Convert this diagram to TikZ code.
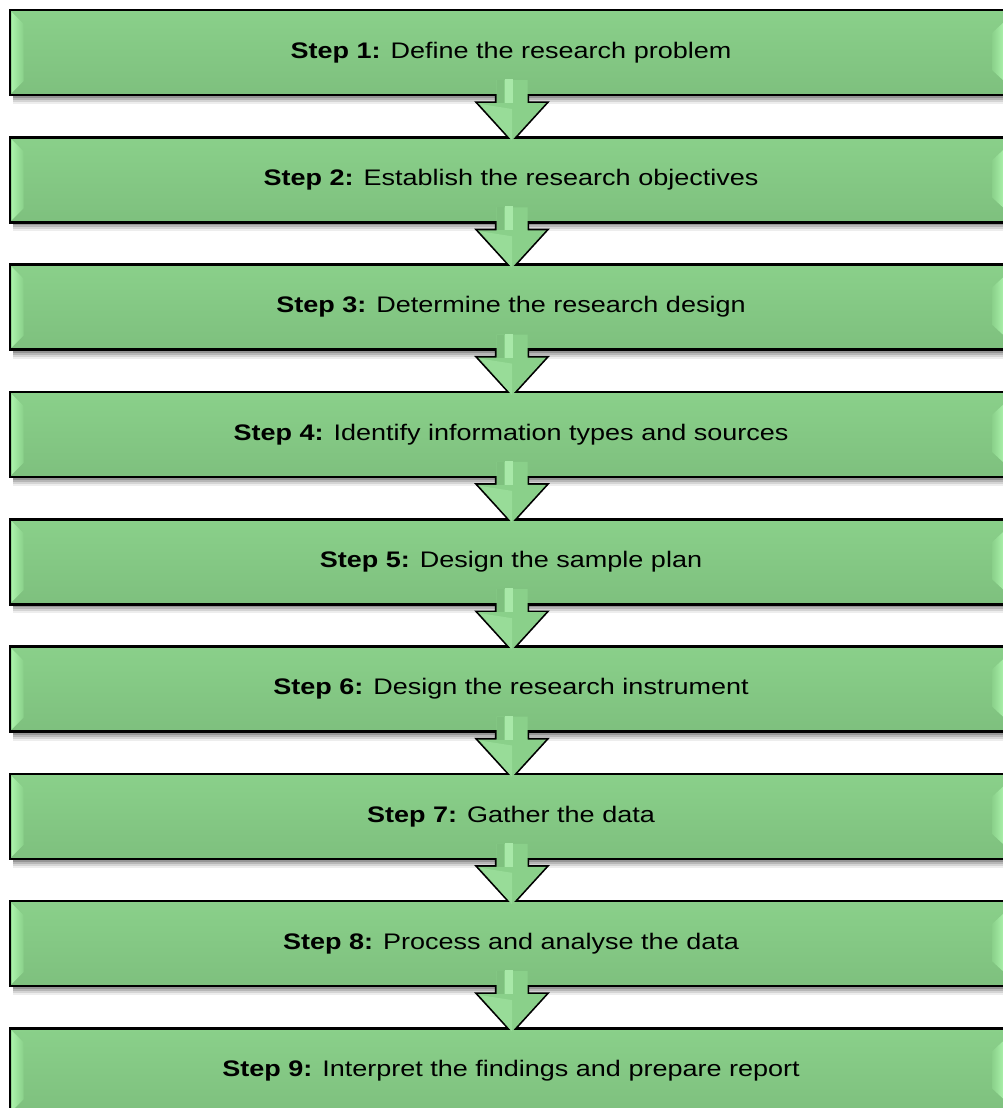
\documentclass[tikz,border=0pt]{standalone}
\usepackage{fontspec}
\setmainfont{Liberation Sans}
\usetikzlibrary{calc}
\definecolor{stepfill}{HTML}{8AD08A}
\definecolor{stepdark}{HTML}{7EC07E}
\definecolor{steplight}{HTML}{AAF2AA}
\definecolor{arrowlight}{HTML}{A8E8A8}
\definecolor{arrowmid}{HTML}{98DC98}
\tikzset{
  stepbox/.style={rectangle, minimum width=1002pt, minimum height=85pt,
    inner sep=0pt, outer sep=0pt},
  steptext/.style={font=\fontsize{22.5}{27}\selectfont, text=black, inner sep=0pt},
  boxborder/.style={draw=black, line width=2.6pt},
  arrowedge/.style={draw=black, line width=3.4pt, line join=miter},
}
% block arrow outline from box #1 to box #2 (y grows downwards)
\newcommand\arrowpath[2]{%
  let \p1=(#1.south), \p2=(#2.north) in
  (512-15.5, \y1+15) -- (512+15.5, \y1+15) -- (512+15.5, \y1-8)
  -- (512+34, \y1-8) -- (512, \y2-3) -- (512-34, \y1-8)
  -- (512-15.5, \y1-8) -- cycle}
\begin{document}
\begin{tikzpicture}[x=1pt, y=-1pt]
\useasboundingbox (0,0) rectangle (1003,1108);
\clip (0,0) rectangle (1003,1108);
\fill[white] (0,0) rectangle (1003,1108);

% step boxes (placed first so the arrows can refer to them)
\foreach \i in {1,...,9} {
  \pgfmathsetmacro\top{10+127.3*(\i-1)}
  \node[stepbox] (box\i) at (511, \top+42.5) {};
}

% soft shadows under the boxes
\foreach \i in {1,...,9} {
  \foreach \d/\o in {9/0.07, 7/0.10, 5/0.14, 3/0.18} {
    \fill[black, opacity=\o] ($(box\i.south west)+(3,\d)$) rectangle ($(box\i.north east)+(2,4)$);
  }
}

% dark rims of the block arrows
\foreach \i [evaluate=\i as \j using int(\i+1)] in {1,...,8} {
  \draw[arrowedge] \arrowpath{box\i}{box\j};
}

% box faces
\foreach \i in {1,...,9} {
  \shade[top color=stepfill, middle color=stepfill, bottom color=stepdark]
    (box\i.south west) rectangle (box\i.north east);
  % left bevel
  \coordinate (tl) at ($(box\i.north west)+(1.5,2)$);
  \coordinate (bl) at ($(box\i.south west)+(1.5,-2)$);
  \shade[left color=steplight, right color=stepfill]
    (tl) -- ($(tl)+(12,12)$) -- ($(bl)+(12,-12)$) -- (bl) -- cycle;
  % right bevel
  \coordinate (tr) at ($(box\i.north east)+(-8,12)$);
  \coordinate (br) at ($(box\i.south east)+(-8,-14)$);
  \shade[right color=steplight, left color=stepfill]
    (tr) -- ($(tr)+(-12,11)$) -- ($(br)+(-12,-11)$) -- (br) -- cycle;
  \draw[boxborder] (box\i.south west) rectangle (box\i.north east);
}

% block arrow faces
\foreach \i [evaluate=\i as \j using int(\i+1)] in {1,...,8} {
  \fill[stepfill] \arrowpath{box\i}{box\j};
  \path let \p1=(box\i.south), \p2=(box\j.north) in
    coordinate (st) at (512, \y1+15) coordinate (hb) at (512, \y1-8)
    coordinate (tip) at (512, \y2-3);
  % lighter left half of the head
  \fill[arrowmid] ($(hb)+(-32,1)$) -- ($(hb)+(0,6)$) -- (tip) -- cycle;
  % shaft highlights
  \fill[stepdark] ($(st)+(-15.5,0)$) rectangle ($(hb)+(-8,0)$);
  \fill[arrowlight] ($(st)+(-7,-1)$) rectangle ($(hb)+(1,0)$);
}

% labels
\node[steptext] at (box1) {\scalebox{1.2}[1]{\textbf{Step 1:} Define the research problem}};
\node[steptext] at (box2) {\scalebox{1.2}[1]{\textbf{Step 2:} Establish the research objectives}};
\node[steptext] at (box3) {\scalebox{1.2}[1]{\textbf{Step 3:} Determine the research design}};
\node[steptext] at (box4) {\scalebox{1.2}[1]{\textbf{Step 4:} Identify information types and sources}};
\node[steptext] at (box5) {\scalebox{1.2}[1]{\textbf{Step 5:} Design the sample plan}};
\node[steptext] at (box6) {\scalebox{1.2}[1]{\textbf{Step 6:} Design the research instrument}};
\node[steptext] at (box7) {\scalebox{1.2}[1]{\textbf{Step 7:} Gather the data}};
\node[steptext] at (box8) {\scalebox{1.2}[1]{\textbf{Step 8:} Process and analyse the data}};
\node[steptext] at (box9) {\scalebox{1.2}[1]{\textbf{Step 9:} Interpret the findings and prepare report}};
\end{tikzpicture}
\end{document}
